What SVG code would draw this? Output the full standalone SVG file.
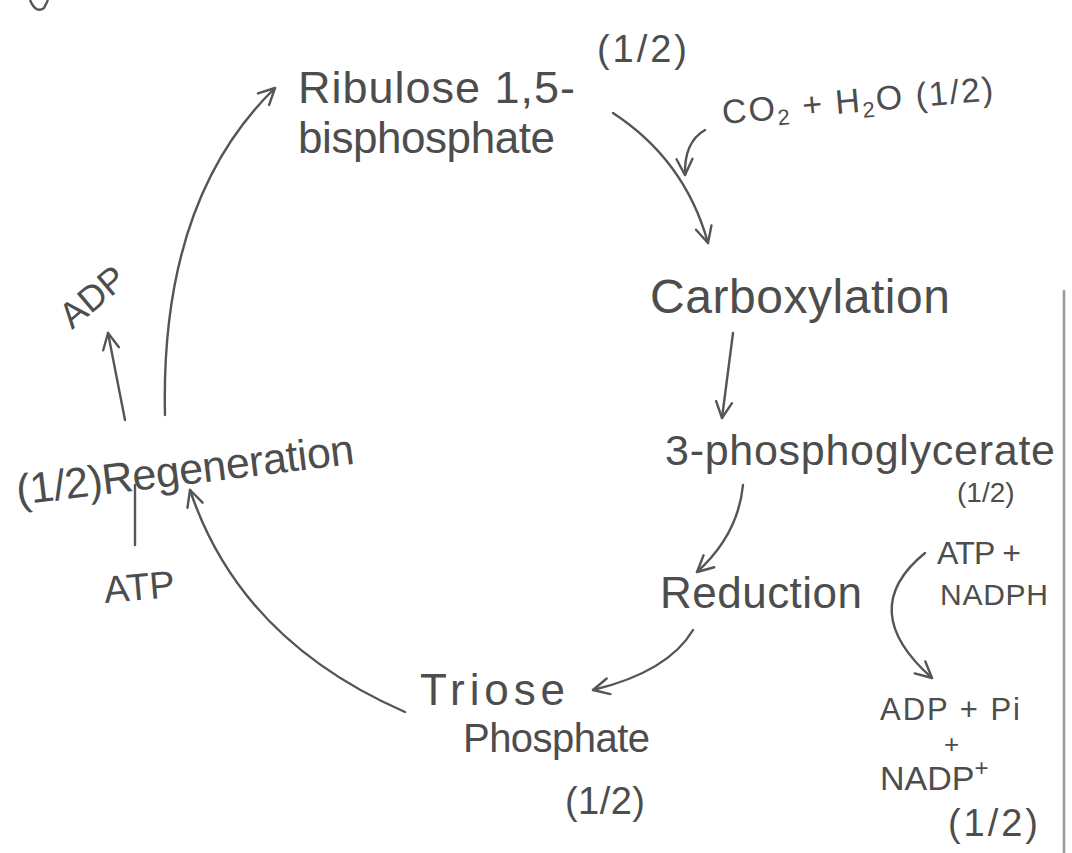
<svg xmlns="http://www.w3.org/2000/svg" width="1072" height="853" viewBox="0 0 1072 853">
<defs>
<marker id="ah" viewBox="0 0 20 20" refX="18" refY="10" markerWidth="20" markerHeight="20" markerUnits="userSpaceOnUse" orient="auto">
<path d="M2,2 L18,10 L2,18" fill="none" stroke="#555" stroke-width="2.4" stroke-linecap="round" stroke-linejoin="round"/>
</marker>
</defs>
<style>
.t{font-family:"Liberation Sans",Arial,sans-serif;fill:#4d4d4d}
.c{fill:none;stroke:#555;stroke-width:2.4;stroke-linecap:round}
.a{marker-end:url(#ah)}
</style>
<rect width="1072" height="853" fill="#fff"/>
<path d="M30,0 Q36,14 44,8 L48,0" fill="none" stroke="#555" stroke-width="2.4"/>
<line x1="1064" y1="290" x2="1064" y2="853" stroke="#999" stroke-width="2.5"/>

<g id="connectors">
<path class="c a" d="M165,415 Q160,200 275,88"/>
<path class="c a" d="M613,113 Q685,160 708,243"/>
<path class="c a" d="M705,130 Q684,142 685,175"/>
<path class="c a" d="M733,333 L722,418"/>
<path class="c a" d="M743,485 Q738,535 697,572"/>
<path class="c a" d="M925,553 Q855,610 932,678"/>
<path class="c a" d="M693,630 Q668,672 593,690"/>
<path class="c a" d="M405,712 Q240,640 190,490"/>
<path class="c a" d="M125,420 L108,333"/>
<path class="c" d="M135,485 L135,545"/>
</g>

<g id="ribulose">
<text class="t" x="298" y="103" font-size="45" textLength="277">Ribulose 1,5-</text>
<text class="t" x="298" y="153" font-size="44" textLength="257">bisphosphate</text>
<text class="t" x="597" y="62" font-size="38" textLength="90">(1/2)</text>
</g>
<g id="co2">
<text class="t" x="723" y="124" font-size="34" transform="rotate(-5 723 124)" textLength="272">CO<tspan font-size="22" dy="6">2</tspan><tspan dy="-6"> + H</tspan><tspan font-size="22" dy="6">2</tspan><tspan dy="-6">O (1/2)</tspan></text>
</g>
<g id="carboxylation">
<text class="t" x="650" y="313" font-size="48" textLength="300">Carboxylation</text>
</g>
<g id="pga">
<text class="t" x="665" y="465" font-size="43" textLength="390">3-phosphoglycerate</text>
<text class="t" x="957" y="502" font-size="28">(1/2)</text>
</g>
<g id="reduction">
<text class="t" x="660" y="608" font-size="44" textLength="202">Reduction</text>
</g>
<g id="atp-nadph">
<text class="t" x="937" y="564" font-size="32" textLength="84">ATP +</text>
<text class="t" x="940" y="605" font-size="30" textLength="108">NADPH</text>
</g>
<g id="adp-nadp">
<text class="t" x="880" y="720" font-size="31" textLength="140">ADP + Pi</text>
<text class="t" x="944" y="753" font-size="26">+</text>
<text class="t" x="880" y="790" font-size="34">NADP<tspan font-size="24" dy="-14">+</tspan></text>
<text class="t" x="948" y="836" font-size="38" textLength="90">(1/2)</text>
</g>
<g id="triose">
<text class="t" x="420" y="705" font-size="44" textLength="145">Triose</text>
<text class="t" x="463" y="752" font-size="40" textLength="187">Phosphate</text>
<text class="t" x="565" y="814" font-size="38" textLength="80">(1/2)</text>
</g>
<g id="regeneration">
<text class="t" x="18" y="505" font-size="43" transform="rotate(-7 18 505)" textLength="340">(1/2)Regeneration</text>
</g>
<g id="adp">
<text class="t" x="72" y="330" font-size="36" transform="rotate(-40 72 330)">ADP</text>
</g>
<g id="atp">
<text class="t" x="105" y="603" font-size="38" transform="rotate(-5 105 603)">ATP</text>
</g>
</svg>
